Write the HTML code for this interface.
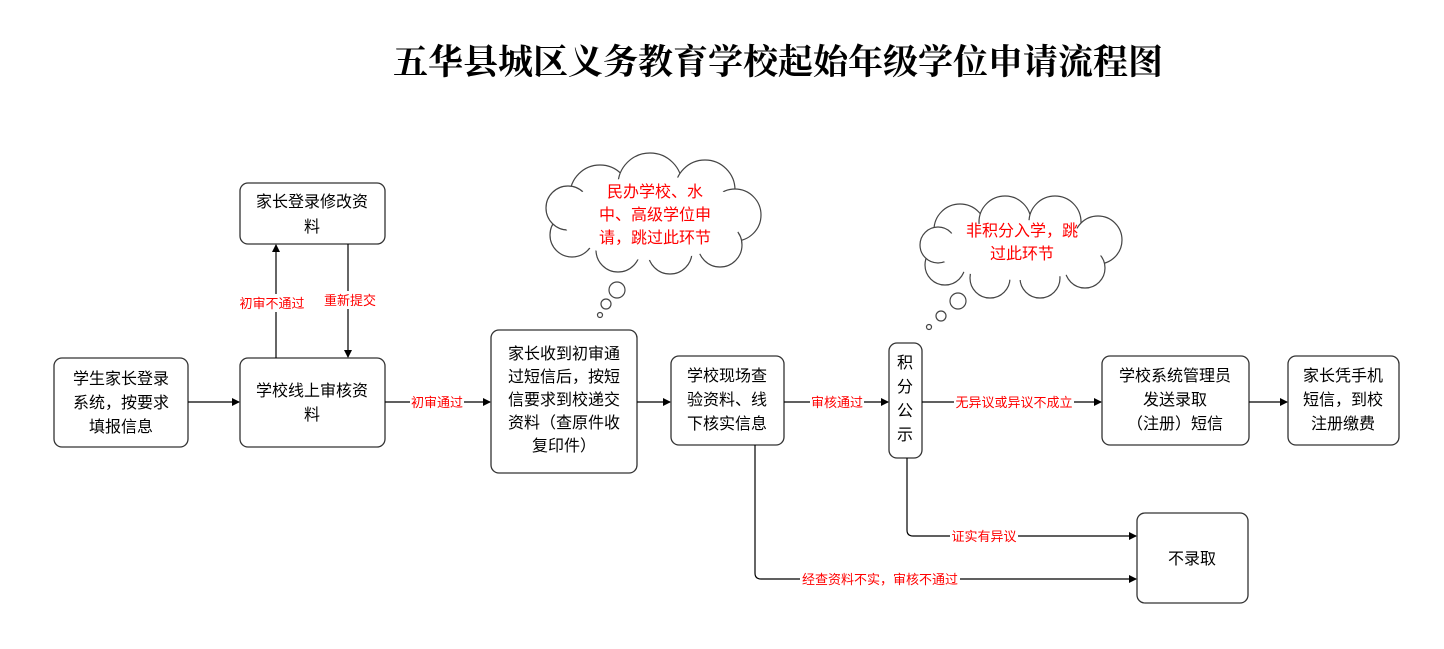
<!DOCTYPE html>
<html><head><meta charset="utf-8"><style>
html,body{margin:0;padding:0;background:#fff;}
svg{display:block;}
text{font-family:"Liberation Sans","Noto Sans CJK SC",sans-serif;font-size:16px;fill:#000;}
.r{fill:#ff0000;font-size:13px;}
.c{fill:#ff0000;font-size:16px;}
.t{font-family:"Liberation Serif","Noto Serif CJK SC",serif;font-size:35px;font-weight:bold;}
rect{fill:#fff;stroke:#333;stroke-width:1.3;}
line,polyline,path.l{stroke:#000;stroke-width:1.2;fill:none;}
.cl circle{fill:#fff;stroke:#444;stroke-width:1.2;}
</style></head><body>
<svg width="1444" height="649" viewBox="0 0 1444 649" xmlns="http://www.w3.org/2000/svg">
<defs><marker id="a" markerWidth="8" markerHeight="8" refX="7" refY="4" orient="auto" markerUnits="userSpaceOnUse"><path d="M0,0 L8,4 L0,8 Z" fill="#000"/></marker></defs>
<text class="t" x="778" y="74" text-anchor="middle">五华县城区义务教育学校起始年级学位申请流程图</text>

<!-- cloud 1 -->
<g class="cl">
<circle cx="600" cy="195" r="30"/><circle cx="650" cy="185" r="32"/><circle cx="705" cy="190" r="30"/>
<circle cx="735" cy="215" r="26"/><circle cx="720" cy="245" r="22"/><circle cx="670" cy="252" r="22"/>
<circle cx="618" cy="250" r="22"/><circle cx="572" cy="235" r="22"/><circle cx="568" cy="208" r="22"/>
</g>
<ellipse cx="653" cy="218" rx="90" ry="42" fill="#fff"/>
<g class="cl"><circle cx="617" cy="290" r="8"/><circle cx="606" cy="304" r="5"/><circle cx="600" cy="315" r="2.5"/></g>
<text class="c" x="655" y="197" text-anchor="middle">民办学校、水</text>
<text class="c" x="655" y="220" text-anchor="middle">中、高级学位申</text>
<text class="c" x="655" y="243" text-anchor="middle">请，跳过此环节</text>

<!-- cloud 2 -->
<g class="cl">
<circle cx="960" cy="230" r="26"/><circle cx="1005" cy="222" r="26"/><circle cx="1055" cy="222" r="26"/>
<circle cx="1098" cy="240" r="24"/><circle cx="1085" cy="268" r="20"/><circle cx="1040" cy="278" r="20"/>
<circle cx="990" cy="278" r="20"/><circle cx="945" cy="265" r="20"/><circle cx="938" cy="245" r="18"/>
</g>
<ellipse cx="1020" cy="250" rx="82" ry="30" fill="#fff"/>
<g class="cl"><circle cx="958" cy="301" r="8"/><circle cx="941" cy="316" r="5"/><circle cx="929" cy="327" r="2.5"/></g>
<text class="c" x="1022" y="236" text-anchor="middle">非积分入学，跳</text>
<text class="c" x="1022" y="259" text-anchor="middle">过此环节</text>

<!-- boxes -->
<rect x="54" y="358" width="134" height="89" rx="8"/>
<text x="121" y="384" text-anchor="middle">学生家长登录</text>
<text x="121" y="408" text-anchor="middle">系统，按要求</text>
<text x="121" y="432" text-anchor="middle">填报信息</text>

<rect x="240" y="358" width="145" height="89" rx="8"/>
<text x="312" y="396" text-anchor="middle">学校线上审核资</text>
<text x="312" y="420" text-anchor="middle">料</text>

<rect x="240" y="183" width="145" height="61" rx="8"/>
<text x="312" y="207" text-anchor="middle">家长登录修改资</text>
<text x="312" y="232" text-anchor="middle">料</text>

<rect x="491" y="330" width="146" height="143" rx="8"/>
<text x="564" y="359" text-anchor="middle">家长收到初审通</text>
<text x="564" y="382" text-anchor="middle">过短信后，按短</text>
<text x="564" y="405" text-anchor="middle">信要求到校递交</text>
<text x="564" y="428" text-anchor="middle">资料（查原件收</text>
<text x="564" y="451" text-anchor="middle">复印件）</text>

<rect x="671" y="356" width="113" height="89" rx="8"/>
<text x="727" y="381" text-anchor="middle">学校现场查</text>
<text x="727" y="405" text-anchor="middle">验资料、线</text>
<text x="727" y="429" text-anchor="middle">下核实信息</text>

<rect x="889" y="343" width="33" height="115" rx="8"/>
<text x="905" y="368" text-anchor="middle">积</text>
<text x="905" y="392" text-anchor="middle">分</text>
<text x="905" y="416" text-anchor="middle">公</text>
<text x="905" y="440" text-anchor="middle">示</text>

<rect x="1102" y="356" width="147" height="89" rx="8"/>
<text x="1175" y="381" text-anchor="middle">学校系统管理员</text>
<text x="1175" y="405" text-anchor="middle">发送录取</text>
<text x="1175" y="429" text-anchor="middle">（注册）短信</text>

<rect x="1288" y="356" width="111" height="89" rx="8"/>
<text x="1343" y="381" text-anchor="middle">家长凭手机</text>
<text x="1343" y="405" text-anchor="middle">短信，到校</text>
<text x="1343" y="429" text-anchor="middle">注册缴费</text>

<rect x="1137" y="513" width="111" height="90" rx="8"/>
<text x="1192" y="564" text-anchor="middle">不录取</text>

<!-- connectors -->
<line x1="188" y1="402" x2="239" y2="402" marker-end="url(#a)"/>
<line x1="276" y1="358" x2="276" y2="245" marker-end="url(#a)"/>
<line x1="348" y1="244" x2="348" y2="357" marker-end="url(#a)"/>
<rect x="238" y="294" width="68" height="18" style="fill:#fff;stroke:none"/>
<text class="r" x="272" y="308" text-anchor="middle">初审不通过</text>
<rect x="322" y="291" width="56" height="18" style="fill:#fff;stroke:none"/>
<text class="r" x="350" y="305" text-anchor="middle">重新提交</text>

<line x1="385" y1="402" x2="490" y2="402" marker-end="url(#a)"/>
<rect x="410" y="394" width="54" height="16" style="fill:#fff;stroke:none"/>
<text class="r" x="437" y="407" text-anchor="middle">初审通过</text>

<line x1="637" y1="402" x2="670" y2="402" marker-end="url(#a)"/>

<line x1="784" y1="402" x2="888" y2="402" marker-end="url(#a)"/>
<rect x="810" y="394" width="54" height="16" style="fill:#fff;stroke:none"/>
<text class="r" x="837" y="407" text-anchor="middle">审核通过</text>

<line x1="922" y1="402" x2="1101" y2="402" marker-end="url(#a)"/>
<rect x="954" y="394" width="120" height="16" style="fill:#fff;stroke:none"/>
<text class="r" x="1014" y="407" text-anchor="middle">无异议或异议不成立</text>

<line x1="1249" y1="402" x2="1287" y2="402" marker-end="url(#a)"/>

<path class="l" d="M907,458 L907,530 Q907,536 913,536 L1136,536" marker-end="url(#a)"/>
<rect x="950" y="528" width="68" height="16" style="fill:#fff;stroke:none"/>
<text class="r" x="984" y="541" text-anchor="middle">证实有异议</text>

<path class="l" d="M755,445 L755,573 Q755,579 761,579 L1136,579" marker-end="url(#a)"/>
<rect x="800" y="571" width="160" height="16" style="fill:#fff;stroke:none"/>
<text class="r" x="880" y="584" text-anchor="middle">经查资料不实，审核不通过</text>
</svg>
</body></html>
